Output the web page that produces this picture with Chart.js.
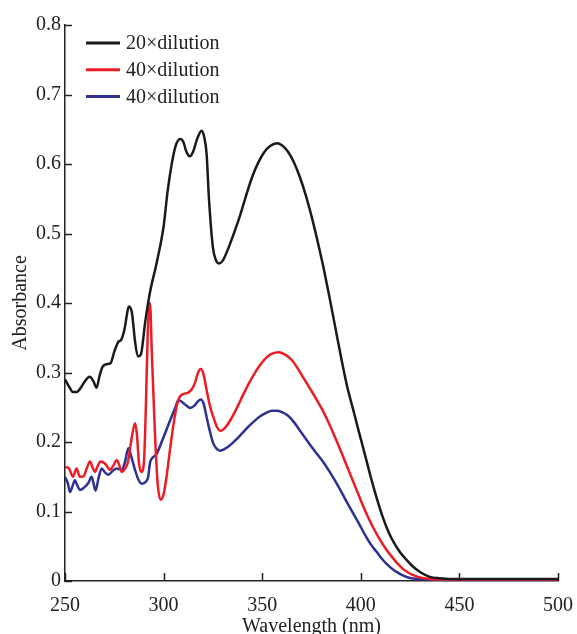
<!DOCTYPE html>
<html><head><meta charset="utf-8">
<script src="https://cdn.jsdelivr.net/npm/chart.js@4"></script>
<style>html,body{margin:0;padding:0;background:#fff}#wrap{width:577px;height:634px}</style>
</head><body><div id="wrap"><canvas id="c" width="577" height="634"></canvas></div>
<script>
const seriesLabels = ['20\u00d7dilution', '40\u00d7dilution', '40\u00d7dilution'];
const xTickValues = [250, 300, 350, 400, 450, 500];
const yTickValues = [0, 0.1, 0.2, 0.3, 0.4, 0.5, 0.6, 0.7, 0.8];

const blackWl = [250,252,254,256,258,260,262.5,264.5,266,267.5,269,271,273,275,277,278.5,280,282.5,284,285.5,287,288.5,290.6,293,296.5,300,302,304,306,308.3,310,311.5,313.4,315,317,319.3,320.5,321.8,323,325,326.5,328,330,333,336,339,342,345,348,351,354,357.5,360,363,366,369,372,375,378,381,384,387,390,393,396,399,402,405,408,411,414,417,420,423,426,430,435,440,445,450,500];
const blackAbs = [0.29,0.28,0.272,0.272,0.278,0.287,0.294,0.287,0.278,0.295,0.308,0.312,0.313,0.33,0.344,0.347,0.36,0.395,0.385,0.345,0.323,0.326,0.371,0.414,0.458,0.51,0.56,0.598,0.625,0.636,0.632,0.618,0.611,0.618,0.636,0.648,0.64,0.615,0.55,0.48,0.462,0.457,0.461,0.48,0.503,0.528,0.556,0.582,0.602,0.617,0.626,0.63,0.627,0.618,0.603,0.582,0.556,0.525,0.49,0.452,0.41,0.366,0.322,0.281,0.248,0.215,0.183,0.15,0.12,0.093,0.071,0.054,0.041,0.031,0.022,0.013,0.006,0.004,0.003,0.003,0.003];

const redWl = [250,252,254,255.9,257.5,259.5,261,262.7,264,265.2,266.5,268,270.3,272.8,274.5,276.2,277.5,278.7,280,282,283.5,285.5,286.5,287.5,288.7,290,291,292,293.1,294,295.5,297,298.5,300,301.5,303.2,305,306.6,308,309.2,311,312.5,314.3,315.9,317.5,318.8,320.2,321.8,323.5,325.2,327,329,331,334,337,340,343,346,349,352,355,358.5,362,365,368,371,374,377,380,383,386,389,392,395,398,401,404,407,410,413,416,419,422,426,430,435,440,500];
const redAbs = [0.164,0.162,0.15,0.162,0.15,0.151,0.162,0.172,0.163,0.157,0.165,0.172,0.169,0.16,0.166,0.174,0.167,0.157,0.16,0.172,0.2,0.227,0.21,0.17,0.157,0.17,0.25,0.36,0.4,0.332,0.22,0.14,0.117,0.125,0.15,0.188,0.225,0.251,0.264,0.268,0.27,0.271,0.276,0.285,0.3,0.305,0.298,0.275,0.252,0.236,0.222,0.216,0.22,0.232,0.248,0.266,0.283,0.298,0.311,0.321,0.327,0.329,0.325,0.318,0.306,0.292,0.278,0.264,0.249,0.232,0.213,0.193,0.172,0.151,0.13,0.109,0.09,0.073,0.058,0.045,0.034,0.024,0.016,0.009,0.005,0.003,0.002,0.002];

const blueWl = [250,251.5,252.5,254,255,256.3,257.6,259.5,261.8,263.5,264.5,265.5,267,268.6,270.3,272,274,276.2,278.7,280.5,282.1,283.5,285.5,287.2,288.9,290.6,292.2,293.1,294,296.5,299,301.5,304,306,307.5,308.7,310,311.7,313.4,315.5,317.3,318.8,320.3,321.8,323.5,325.2,327,328.6,331,334,337,340,343,346,349,352,355,357.5,360,363,366,369,372,375,378,381,384,387,390,393,396,399,402,405,408,411,414,417,420,424,428,434,440,500];
const blueAbs = [0.15,0.14,0.128,0.138,0.145,0.137,0.131,0.134,0.141,0.15,0.14,0.13,0.148,0.162,0.156,0.153,0.158,0.162,0.16,0.172,0.191,0.18,0.16,0.146,0.14,0.142,0.15,0.17,0.176,0.183,0.2,0.218,0.236,0.25,0.26,0.259,0.256,0.252,0.249,0.252,0.258,0.261,0.255,0.236,0.215,0.198,0.19,0.1875,0.19,0.196,0.204,0.213,0.222,0.23,0.237,0.242,0.245,0.245,0.243,0.238,0.229,0.217,0.205,0.193,0.182,0.171,0.158,0.144,0.129,0.113,0.098,0.083,0.067,0.053,0.042,0.031,0.022,0.015,0.01,0.005,0.003,0.002,0.001,0.001];

const colors = ['#1a1a1a', '#ed1c24', '#2e3192'];
const FONT = {family: '"Liberation Serif", "Times New Roman", serif', size: 20};
const AXIS = '#222222';

function pts(xs, ys) { return xs.map((x, i) => ({x: x, y: ys[i]})); }

const insideTicks = {
  id: 'insideTicks',
  afterDatasetsDraw(chart) {
    const ctx = chart.ctx, xs = chart.scales.x, ys = chart.scales.y;
    ctx.save();
    ctx.strokeStyle = AXIS; ctx.lineWidth = 1.5;
    xTickValues.forEach(v => {
      const px = Math.round(xs.getPixelForValue(v)) + 0.5;
      ctx.beginPath(); ctx.moveTo(px, ys.bottom); ctx.lineTo(px, ys.bottom - 8); ctx.stroke();
    });
    yTickValues.forEach(v => {
      const py = Math.round(ys.getPixelForValue(v)) + 0.5;
      ctx.beginPath(); ctx.moveTo(xs.left, py); ctx.lineTo(xs.left + 7, py); ctx.stroke();
    });
    ctx.restore();
  }
};

const innerLegend = {
  id: 'innerLegend',
  afterDraw(chart) {
    const ctx = chart.ctx, a = chart.chartArea;
    ctx.save();
    ctx.font = FONT.size + 'px ' + FONT.family;
    ctx.textBaseline = 'middle';
    ctx.fillStyle = AXIS;
    chart.data.datasets.forEach((ds, i) => {
      const y = a.top + 18 + i * 26.7;
      ctx.strokeStyle = ds.borderColor; ctx.lineWidth = 3;
      ctx.beginPath(); ctx.moveTo(a.left + 21, y); ctx.lineTo(a.left + 55, y); ctx.stroke();
      ctx.fillText(ds.label, a.left + 61, y + 1);
    });
    ctx.restore();
  }
};

new Chart(document.getElementById('c').getContext('2d'), {
  type: 'line',
  data: {
    datasets: [
      {label: seriesLabels[0], data: pts(blackWl, blackAbs), borderColor: colors[0]},
      {label: seriesLabels[1], data: pts(redWl, redAbs), borderColor: colors[1]},
      {label: seriesLabels[2], data: pts(blueWl, blueAbs), borderColor: colors[2]}
    ]
  },
  options: {
    responsive: false, animation: false, devicePixelRatio: 1,
    layout: {padding: {left: 0, right: 19, top: 25, bottom: 0}},
    plugins: {legend: {display: false}, tooltip: {enabled: false}},
    elements: {point: {radius: 0}, line: {borderWidth: 2.5, cubicInterpolationMode: 'monotone', fill: false}},
    scales: {
      x: {
        type: 'linear', min: 250, max: 500,
        afterBuildTicks(s) { s.ticks = xTickValues.map(v => ({value: v})); },
        ticks: {font: FONT, color: AXIS, padding: 13, maxRotation: 0, autoSkip: false},
        grid: {display: false, drawTicks: false},
        border: {display: true, color: AXIS, width: 1.5},
        title: {display: true, text: 'Wavelength (nm)', font: FONT, color: AXIS, padding: {top: 0, bottom: -5}},
        afterFit(s) { s.height = 53; s.paddingLeft = 0; s.paddingRight = 0; }
      },
      y: {
        type: 'linear', min: 0, max: 0.8,
        afterBuildTicks(s) { s.ticks = yTickValues.map(v => ({value: v})); },
        ticks: {font: FONT, color: AXIS, padding: 4, autoSkip: false, callback: v => String(Math.round(v * 10) / 10)},
        grid: {display: false, drawTicks: false},
        border: {display: true, color: AXIS, width: 1.5},
        title: {display: true, text: 'Absorbance', font: FONT, color: AXIS, padding: {top: 9, bottom: 0}},
        afterFit(s) { s.width = 65; s.paddingTop = 0; s.paddingBottom = 0; }
      }
    }
  },
  plugins: [insideTicks, innerLegend]
});
</script></body></html>
